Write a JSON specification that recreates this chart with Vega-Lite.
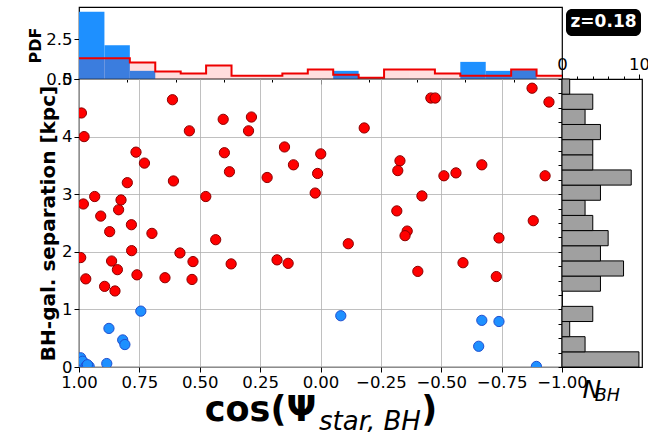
{
  "$schema": "https://vega.github.io/schema/vega-lite/v6.json",
  "background": "white",
  "padding": {"left": 26, "top": 6, "right": 0, "bottom": 0},
  "config": {
    "font": "DejaVu Sans",
    "view": {"stroke": "black", "strokeWidth": 1.2},
    "axis": {
      "labelFont": "DejaVu Sans", "titleFont": "DejaVu Sans",
      "labelFontSize": 16.5, "labelColor": "black", "titleColor": "black",
      "tickColor": "black", "domain": false, "grid": false,
      "gridColor": "#b0b0b0", "gridWidth": 0.8,
      "labelFlush": false, "labelOverlap": false
    }
  },
  "datasets": {
    "points": [
      {"grp": "red", "cos": 0.99, "sep": 4.41}, {"grp": "red", "cos": 0.979, "sep": 4.0},
      {"grp": "red", "cos": 0.982, "sep": 2.83}, {"grp": "red", "cos": 0.935, "sep": 2.96},
      {"grp": "red", "cos": 0.993, "sep": 1.9}, {"grp": "red", "cos": 0.972, "sep": 1.53},
      {"grp": "red", "cos": 0.91, "sep": 2.62}, {"grp": "red", "cos": 0.873, "sep": 2.35},
      {"grp": "red", "cos": 0.865, "sep": 1.84}, {"grp": "red", "cos": 0.841, "sep": 1.69},
      {"grp": "red", "cos": 0.894, "sep": 1.4}, {"grp": "red", "cos": 0.851, "sep": 1.32},
      {"grp": "red", "cos": 0.836, "sep": 2.73}, {"grp": "red", "cos": 0.826, "sep": 2.9},
      {"grp": "red", "cos": 0.8, "sep": 3.2}, {"grp": "red", "cos": 0.783, "sep": 2.47},
      {"grp": "red", "cos": 0.782, "sep": 2.02}, {"grp": "red", "cos": 0.76, "sep": 1.6},
      {"grp": "red", "cos": 0.764, "sep": 3.73}, {"grp": "red", "cos": 0.729, "sep": 3.54},
      {"grp": "red", "cos": 0.698, "sep": 2.32}, {"grp": "red", "cos": 0.613, "sep": 4.64},
      {"grp": "red", "cos": 0.609, "sep": 3.23}, {"grp": "red", "cos": 0.644, "sep": 1.55},
      {"grp": "red", "cos": 0.582, "sep": 1.98}, {"grp": "red", "cos": 0.543, "sep": 4.1},
      {"grp": "red", "cos": 0.528, "sep": 1.83}, {"grp": "red", "cos": 0.532, "sep": 1.52},
      {"grp": "red", "cos": 0.475, "sep": 2.96}, {"grp": "red", "cos": 0.434, "sep": 2.21},
      {"grp": "red", "cos": 0.403, "sep": 4.3}, {"grp": "red", "cos": 0.398, "sep": 3.72},
      {"grp": "red", "cos": 0.377, "sep": 3.39}, {"grp": "red", "cos": 0.37, "sep": 1.79},
      {"grp": "red", "cos": 0.298, "sep": 4.1}, {"grp": "red", "cos": 0.286, "sep": 4.34},
      {"grp": "red", "cos": 0.221, "sep": 3.29}, {"grp": "red", "cos": 0.18, "sep": 1.86},
      {"grp": "red", "cos": 0.149, "sep": 3.82}, {"grp": "red", "cos": 0.134, "sep": 1.8},
      {"grp": "red", "cos": 0.112, "sep": 3.51}, {"grp": "red", "cos": -0.001, "sep": 3.7},
      {"grp": "red", "cos": 0.012, "sep": 3.36}, {"grp": "red", "cos": 0.022, "sep": 3.02},
      {"grp": "red", "cos": -0.115, "sep": 2.14}, {"grp": "red", "cos": -0.181, "sep": 4.15},
      {"grp": "red", "cos": -0.329, "sep": 3.58}, {"grp": "red", "cos": -0.32, "sep": 3.41},
      {"grp": "red", "cos": -0.316, "sep": 2.71}, {"grp": "red", "cos": -0.359, "sep": 2.36},
      {"grp": "red", "cos": -0.35, "sep": 2.28}, {"grp": "red", "cos": -0.42, "sep": 2.97},
      {"grp": "red", "cos": -0.403, "sep": 1.66}, {"grp": "red", "cos": -0.457, "sep": 4.67},
      {"grp": "red", "cos": -0.475, "sep": 4.67}, {"grp": "red", "cos": -0.511, "sep": 3.32},
      {"grp": "red", "cos": -0.561, "sep": 3.37}, {"grp": "red", "cos": -0.59, "sep": 1.81},
      {"grp": "red", "cos": -0.668, "sep": 3.51}, {"grp": "red", "cos": -0.739, "sep": 2.24},
      {"grp": "red", "cos": -0.728, "sep": 1.57}, {"grp": "red", "cos": -0.881, "sep": 2.54},
      {"grp": "red", "cos": -0.876, "sep": 4.84}, {"grp": "red", "cos": -0.946, "sep": 4.6},
      {"grp": "red", "cos": -0.93, "sep": 3.32},
      {"grp": "blue", "cos": 0.993, "sep": 0.16}, {"grp": "blue", "cos": 0.993, "sep": 0.05},
      {"grp": "blue", "cos": 0.976, "sep": 0.06}, {"grp": "blue", "cos": 0.958, "sep": 0.01},
      {"grp": "blue", "cos": 1.0, "sep": 0.0}, {"grp": "blue", "cos": 0.985, "sep": 0.1},
      {"grp": "blue", "cos": 0.97, "sep": 0.02}, {"grp": "blue", "cos": 0.965, "sep": 0.04},
      {"grp": "blue", "cos": 0.885, "sep": 0.06}, {"grp": "blue", "cos": 0.876, "sep": 0.67},
      {"grp": "blue", "cos": 0.819, "sep": 0.47}, {"grp": "blue", "cos": 0.81, "sep": 0.39},
      {"grp": "blue", "cos": 0.744, "sep": 0.97}, {"grp": "blue", "cos": -0.084, "sep": 0.89},
      {"grp": "blue", "cos": -0.668, "sep": 0.81}, {"grp": "blue", "cos": -0.655, "sep": 0.36},
      {"grp": "blue", "cos": -0.739, "sep": 0.79}, {"grp": "blue", "cos": -0.894, "sep": 0.01}
    ],
    "pdfBlue": [
      {"k": 0, "lo": 1.0, "hi": 0.8947, "pdf": 4.21},
      {"k": 1, "lo": 0.8947, "hi": 0.7895, "pdf": 2.11},
      {"k": 2, "lo": 0.7895, "hi": 0.6842, "pdf": 0.51},
      {"k": 10, "lo": -0.0526, "hi": -0.1579, "pdf": 0.51},
      {"k": 15, "lo": -0.5789, "hi": -0.6842, "pdf": 1.07},
      {"k": 16, "lo": -0.6842, "hi": -0.7895, "pdf": 0.51},
      {"k": 17, "lo": -0.7895, "hi": -0.8947, "pdf": 0.55}
    ],
    "pdfRed": [
      {"k": 0, "lo": 1.0, "hi": 0.8947, "pdf": 1.29},
      {"k": 1, "lo": 0.8947, "hi": 0.7895, "pdf": 1.29},
      {"k": 2, "lo": 0.7895, "hi": 0.6842, "pdf": 1.03},
      {"k": 3, "lo": 0.6842, "hi": 0.5789, "pdf": 0.47},
      {"k": 4, "lo": 0.5789, "hi": 0.4737, "pdf": 0.35},
      {"k": 5, "lo": 0.4737, "hi": 0.3684, "pdf": 0.84},
      {"k": 6, "lo": 0.3684, "hi": 0.2632, "pdf": 0.205},
      {"k": 7, "lo": 0.2632, "hi": 0.1579, "pdf": 0.205},
      {"k": 8, "lo": 0.1579, "hi": 0.0526, "pdf": 0.35},
      {"k": 9, "lo": 0.0526, "hi": -0.0526, "pdf": 0.595},
      {"k": 10, "lo": -0.0526, "hi": -0.1579, "pdf": 0.27},
      {"k": 11, "lo": -0.1579, "hi": -0.2632, "pdf": 0.08},
      {"k": 12, "lo": -0.2632, "hi": -0.3684, "pdf": 0.595},
      {"k": 13, "lo": -0.3684, "hi": -0.4737, "pdf": 0.595},
      {"k": 14, "lo": -0.4737, "hi": -0.5789, "pdf": 0.35},
      {"k": 15, "lo": -0.5789, "hi": -0.6842, "pdf": 0.205},
      {"k": 16, "lo": -0.6842, "hi": -0.7895, "pdf": 0.205},
      {"k": 17, "lo": -0.7895, "hi": -0.8947, "pdf": 0.595},
      {"k": 18, "lo": -0.8947, "hi": -1.0, "pdf": 0.205}
    ],
    "nbh": [
      {"lo": 0.0, "hi": 0.2632, "n": 10}, {"lo": 0.2632, "hi": 0.5263, "n": 3},
      {"lo": 0.5263, "hi": 0.7895, "n": 1}, {"lo": 0.7895, "hi": 1.0526, "n": 4},
      {"lo": 1.3158, "hi": 1.5789, "n": 5}, {"lo": 1.5789, "hi": 1.8421, "n": 8},
      {"lo": 1.8421, "hi": 2.1053, "n": 5}, {"lo": 2.1053, "hi": 2.3684, "n": 6},
      {"lo": 2.3684, "hi": 2.6316, "n": 4}, {"lo": 2.6316, "hi": 2.8947, "n": 3},
      {"lo": 2.8947, "hi": 3.1579, "n": 5}, {"lo": 3.1579, "hi": 3.4211, "n": 9},
      {"lo": 3.4211, "hi": 3.6842, "n": 4}, {"lo": 3.6842, "hi": 3.9474, "n": 4},
      {"lo": 3.9474, "hi": 4.2105, "n": 5}, {"lo": 4.2105, "hi": 4.4737, "n": 3},
      {"lo": 4.4737, "hi": 4.7368, "n": 4}, {"lo": 4.7368, "hi": 5.0, "n": 1}
    ]
  },
  "columns": 2,
  "spacing": 0,
  "bounds": "flush",
  "concat": [
    {
      "width": 483,
      "height": 72,
      "layer": [
        {
          "data": {"name": "pdfBlue"},
          "mark": {"type": "rect", "fill": "#1e90ff"},
          "encoding": {
            "x": {
              "field": "lo", "type": "quantitative",
              "scale": {"domain": [1, -1]},
              "axis": {
                "orient": "bottom", "labels": false, "title": null, "labelOverlap": false,
                "values": [1, 0.95, 0.9, 0.85, 0.8, 0.75, 0.7, 0.65, 0.6, 0.55, 0.5, 0.45, 0.4, 0.35, 0.3, 0.25, 0.2, 0.15, 0.1, 0.05, 0, -0.05, -0.1, -0.15, -0.2, -0.25, -0.3, -0.35, -0.4, -0.45, -0.5, -0.55, -0.6, -0.65, -0.7, -0.75, -0.8, -0.85, -0.9, -0.95, -1],
                "tickSize": {"condition": {"test": "abs(datum.value * 4 - round(datum.value * 4)) < 0.001", "value": 5}, "value": 3}
              }
            },
            "x2": {"field": "hi"},
            "y": {
              "field": "pdf", "type": "quantitative",
              "scale": {"domain": [0, 4.45]},
              "axis": {
                "values": [0, 2.5], "format": ".1f", "labelOverlap": false, "tickSize": 5,
                "title": "PDF", "titleFontSize": 16, "titleFontWeight": "bold",
                "titleX": -39, "titleY": 38, "titleAlign": "center", "titleAngle": 270,
                "titleBaseline": "alphabetic"
              }
            },
            "y2": {"datum": 0}
          }
        },
        {
          "data": {"name": "pdfRed"},
          "mark": {"type": "rect", "fill": "#ff0000", "opacity": 0.13},
          "encoding": {
            "x": {"field": "lo", "type": "quantitative"},
            "x2": {"field": "hi"},
            "y": {"field": "pdf", "type": "quantitative"},
            "y2": {"datum": 0}
          }
        },
        {
          "data": {"name": "pdfRed"},
          "transform": [{"fold": ["lo", "hi"], "as": ["side", "edge"]}],
          "mark": {"type": "line", "color": "#ee0000", "strokeWidth": 2},
          "encoding": {
            "x": {"field": "edge", "type": "quantitative"},
            "y": {"field": "pdf", "type": "quantitative"},
            "order": [{"field": "k", "type": "quantitative"}, {"field": "side", "type": "nominal"}]
          }
        }
      ]
    },
    {
      "width": 80,
      "height": 72,
      "view": {"stroke": null},
      "data": {"values": [{"label": "z=0.18"}]},
      "encoding": {
        "x": {"field": "label", "type": "nominal", "axis": null, "scale": {"paddingInner": 0, "paddingOuter": 0.0333, "align": 0.8}},
        "y": {"field": "label", "type": "nominal", "axis": null, "scale": {"paddingInner": 0, "paddingOuter": 0.8333, "align": 0.044}}
      },
      "layer": [
        {"mark": {"type": "rect", "color": "black", "cornerRadius": 6}},
        {
          "mark": {"type": "text", "color": "white", "fontSize": 17, "fontWeight": "bold", "font": "DejaVu Sans"},
          "encoding": {"text": {"field": "label"}}
        }
      ]
    },
    {
      "width": 483,
      "height": 288,
      "title": {
        "text": "star, BH", "orient": "bottom", "anchor": "start",
        "dx": 281, "offset": 3, "baseline": "alphabetic",
        "font": "DejaVu Sans", "fontSize": 26, "fontStyle": "italic", "fontWeight": "normal", "color": "black"
      },
      "data": {"name": "points"},
      "mark": {"type": "circle", "size": 105, "opacity": 1, "strokeWidth": 1, "clip": true},
      "encoding": {
        "x": {
          "field": "cos", "type": "quantitative",
          "scale": {"domain": [1, -1]},
          "axis": {
            "values": [1, 0.75, 0.5, 0.25, 0, -0.25, -0.5, -0.75, -1],
            "format": ".2f", "grid": true, "tickSize": 5, "labelOverlap": false,
            "title": "cos(Ψ\u2003\u2003\u2003)", "titleFontSize": 35, "titleFontWeight": "bold",
            "titleY": 53, "titleBaseline": "alphabetic"
          }
        },
        "y": {
          "field": "sep", "type": "quantitative",
          "scale": {"domain": [0, 5]},
          "axis": {
            "values": [0, 1, 2, 3, 4, 5], "format": "d", "grid": true, "tickSize": 5,
            "title": "BH-gal. separation [kpc]", "titleFontSize": 20, "titleFontWeight": "bold",
            "titleX": -25, "titleY": 144, "titleAlign": "center", "titleAngle": 270,
            "titleBaseline": "alphabetic"
          }
        },
        "color": {
          "field": "grp", "type": "nominal", "legend": null,
          "scale": {"domain": ["red", "blue"], "range": ["#ff0000", "#1e90ff"]}
        },
        "stroke": {
          "field": "grp", "type": "nominal", "legend": null,
          "scale": {"domain": ["red", "blue"], "range": ["#8b0000", "#1f4fd0"]}
        }
      }
    },
    {
      "width": 80,
      "height": 288,
      "title": {
        "text": "BH", "orient": "bottom", "anchor": "start",
        "dx": 38, "offset": -1, "baseline": "alphabetic",
        "font": "DejaVu Sans", "fontSize": 17.5, "fontStyle": "italic", "fontWeight": "normal", "color": "black"
      },
      "data": {"name": "nbh"},
      "mark": {"type": "rect", "fill": "#a0a0a0", "stroke": "black", "strokeWidth": 1},
      "encoding": {
        "y": {
          "field": "lo", "type": "quantitative",
          "scale": {"domain": [0, 5]},
          "axis": {
            "labels": false, "title": null, "tickSize": 4,
            "values": [0, 0.25, 0.5, 0.75, 1, 1.25, 1.5, 1.75, 2, 2.25, 2.5, 2.75, 3, 3.25, 3.5, 3.75, 4, 4.25, 4.5, 4.75, 5]
          }
        },
        "y2": {"field": "hi"},
        "x": {
          "field": "n", "type": "quantitative",
          "scale": {"domain": [0, 10.4]},
          "axis": {
            "orient": "top", "values": [0, 2, 4, 6, 8, 10], "labelOverlap": false,
            "labelExpr": "datum.value == 0 || datum.value == 10 ? datum.label : ''",
            "tickSize": {"condition": {"test": "datum.value == 0 || datum.value == 10", "value": 5}, "value": 3},
            "title": "N", "titleFontSize": 25, "titleFontStyle": "italic", "titleFontWeight": "normal",
            "titleX": 20, "titleY": 318, "titleAlign": "left", "titleBaseline": "alphabetic"
          }
        },
        "x2": {"datum": 0}
      }
    }
  ]
}
